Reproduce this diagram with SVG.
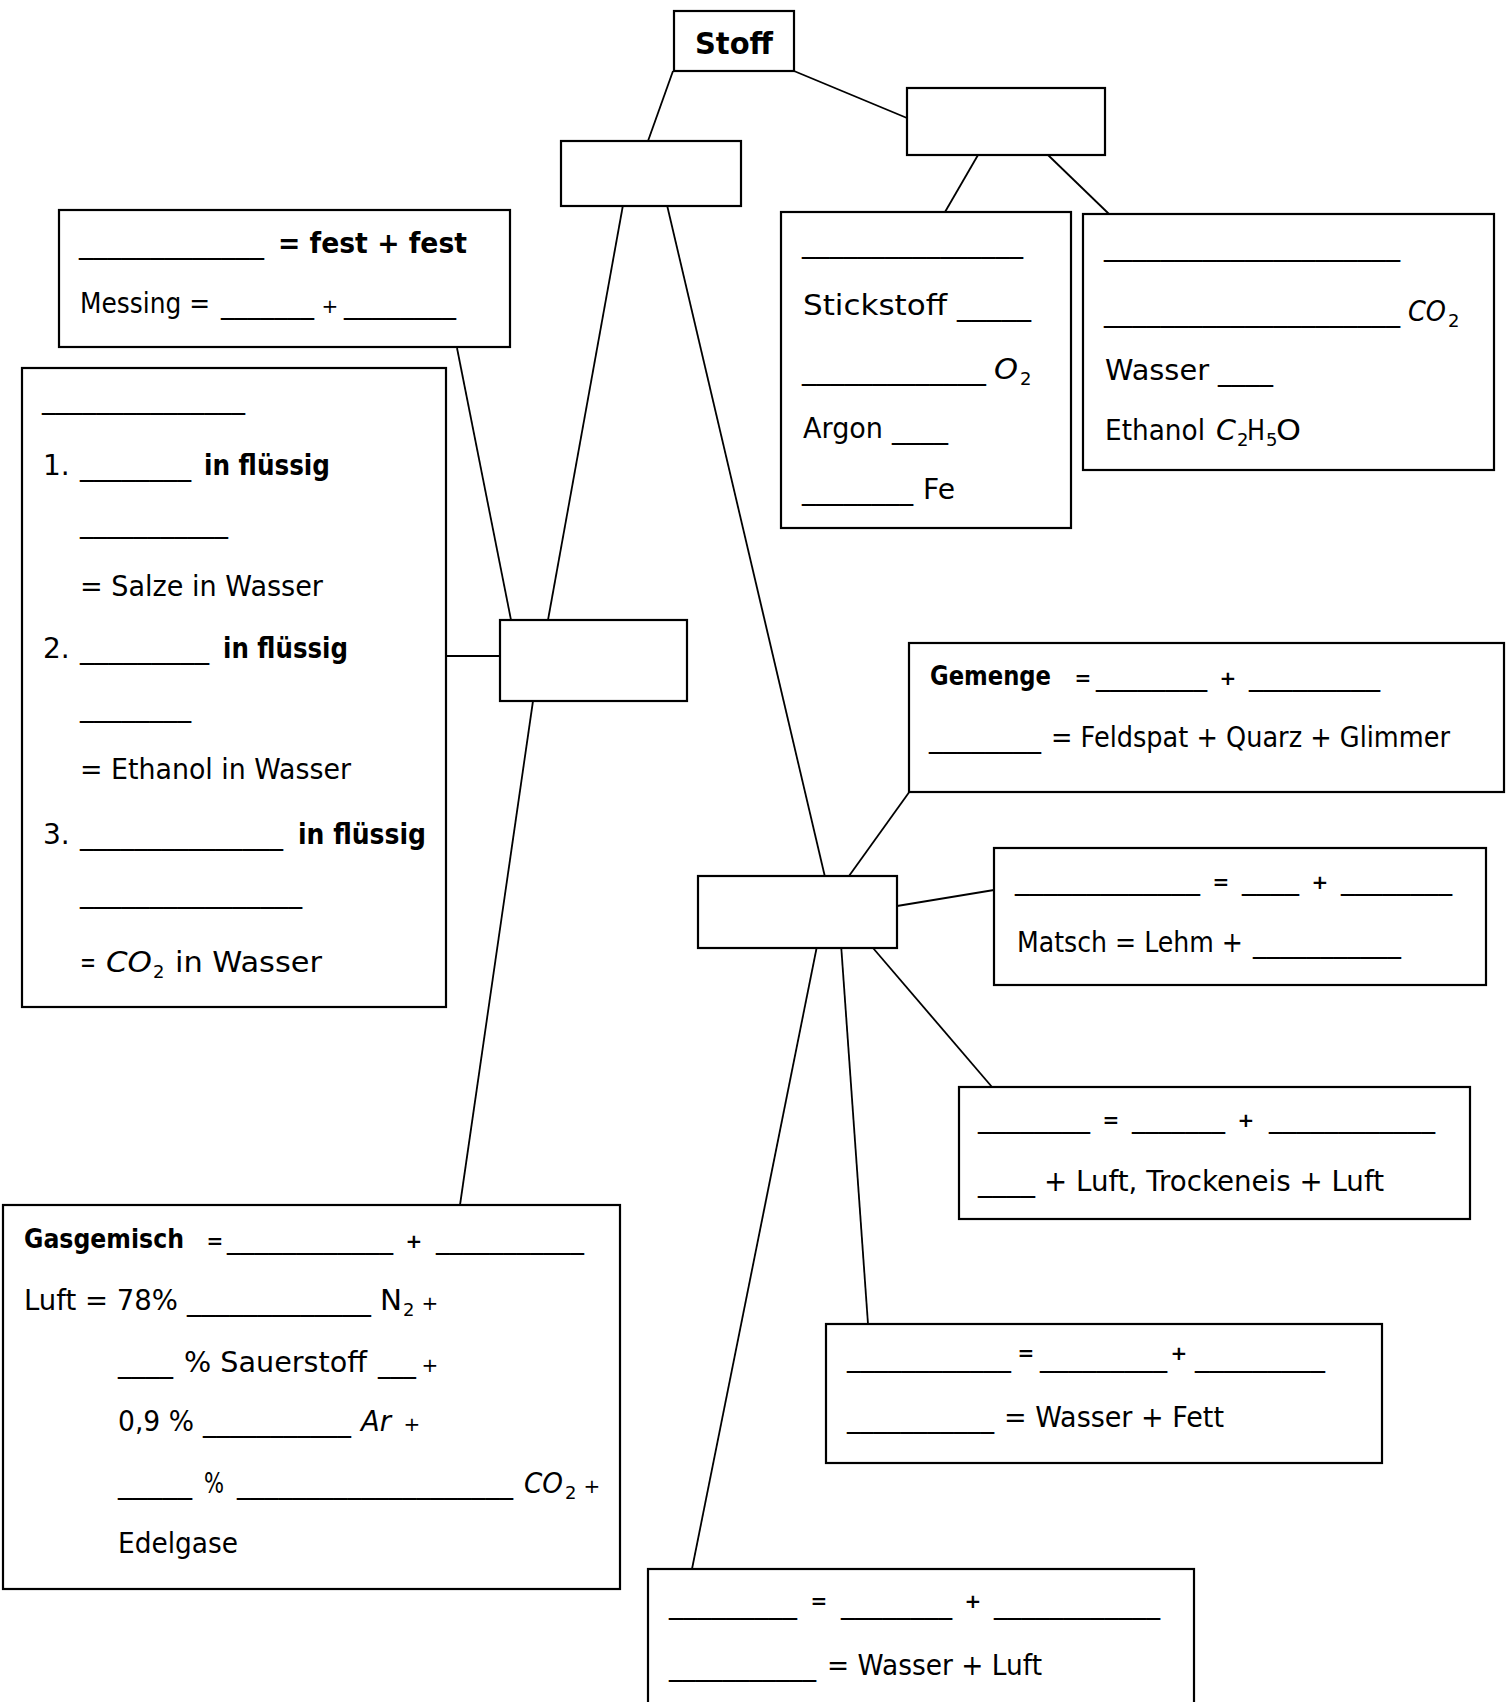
<svg xmlns="http://www.w3.org/2000/svg" width="1509" height="1702" viewBox="0 0 1509 1702">
<style>
.box{fill:#fff;stroke:#000;stroke-width:2.2}
.c{stroke:#000;stroke-width:1.8;fill:none}
text{font-family:"DejaVu Sans","Liberation Sans",sans-serif;font-size:28px;fill:#000}
.b{font-weight:bold}
.bh{font-weight:bold;font-size:27px}
.i{font-style:italic}
.s{font-size:18px}
.op{font-size:20px;text-anchor:middle}
.st{font-size:30px;font-weight:bold}
</style>
<rect width="1509" height="1702" fill="#fff"/>
<g id="connectors">
<line class="c" x1="673" y1="71" x2="648" y2="141"/>
<line class="c" x1="794" y1="71" x2="907" y2="118"/>
<line class="c" x1="978" y1="155" x2="945" y2="212"/>
<line class="c" x1="1048" y1="155" x2="1109" y2="214"/>
<line class="c" x1="623" y1="205" x2="548" y2="620"/>
<line class="c" x1="667" y1="205" x2="825" y2="877"/>
<line class="c" x1="457" y1="348" x2="511" y2="620"/>
<line class="c" x1="446" y1="656" x2="500" y2="656"/>
<line class="c" x1="533" y1="701" x2="460" y2="1205"/>
<line class="c" x1="849" y1="876" x2="910" y2="791"/>
<line class="c" x1="897" y1="906" x2="994" y2="890"/>
<line class="c" x1="873" y1="948" x2="992" y2="1087"/>
<line class="c" x1="841" y1="944" x2="868" y2="1324"/>
<line class="c" x1="817" y1="946" x2="692" y2="1569"/>
</g>
<g id="stoff">
<rect class="box" x="674" y="11" width="120" height="60"/>
<text class="st" x="695" y="54" textLength="78" lengthAdjust="spacingAndGlyphs">Stoff</text>
</g>
<g id="reinstoff">
<rect class="box" x="561" y="141" width="180" height="65"/>
</g>
<g id="gemisch">
<rect class="box" x="907" y="88" width="198" height="67"/>
</g>
<g id="elemente">
<rect class="box" x="781" y="212" width="290" height="316"/>
<text x="802" y="252" textLength="221" lengthAdjust="spacingAndGlyphs">________________</text>
<text x="803" y="315" textLength="144" lengthAdjust="spacingAndGlyphs">Stickstoff</text>
<text x="957" y="315" textLength="74" lengthAdjust="spacingAndGlyphs">_____</text>
<text x="802" y="379" textLength="184" lengthAdjust="spacingAndGlyphs">_____________</text>
<text class="i" x="994" y="379" textLength="24" lengthAdjust="spacingAndGlyphs">O</text>
<text class="s" x="1020" y="385">2</text>
<text x="803" y="438" textLength="80" lengthAdjust="spacingAndGlyphs">Argon</text>
<text x="892" y="438" textLength="56" lengthAdjust="spacingAndGlyphs">____</text>
<text x="802" y="499" textLength="111" lengthAdjust="spacingAndGlyphs">________</text>
<text x="923" y="499" textLength="32" lengthAdjust="spacingAndGlyphs">Fe</text>
</g>
<g id="verbindungen">
<rect class="box" x="1083" y="214" width="411" height="256"/>
<text x="1104" y="255" textLength="296" lengthAdjust="spacingAndGlyphs">_____________________</text>
<text x="1104" y="321" textLength="296" lengthAdjust="spacingAndGlyphs">_____________________</text>
<text class="i" x="1408" y="321" textLength="38" lengthAdjust="spacingAndGlyphs">CO</text>
<text class="s" x="1448" y="327">2</text>
<text x="1105" y="380" textLength="104" lengthAdjust="spacingAndGlyphs">Wasser</text>
<text x="1218" y="380" textLength="55" lengthAdjust="spacingAndGlyphs">____</text>
<text x="1105" y="440" textLength="100" lengthAdjust="spacingAndGlyphs">Ethanol</text>
<text class="i" x="1216" y="440" textLength="20" lengthAdjust="spacingAndGlyphs">C</text>
<text class="s" x="1237" y="446">2</text>
<text x="1247" y="440" textLength="18" lengthAdjust="spacingAndGlyphs">H</text>
<text class="s" x="1266" y="446">5</text>
<text x="1276" y="440" textLength="25" lengthAdjust="spacingAndGlyphs">O</text>
</g>
<g id="legierung">
<rect class="box" x="59" y="210" width="451" height="137"/>
<text x="79" y="253" textLength="185" lengthAdjust="spacingAndGlyphs">_____________</text>
<text class="b" x="278" y="253" textLength="189" lengthAdjust="spacingAndGlyphs">= fest + fest</text>
<text x="80" y="313" textLength="130" lengthAdjust="spacingAndGlyphs">Messing =</text>
<text x="221" y="313" textLength="93" lengthAdjust="spacingAndGlyphs">_______</text>
<text class="op" x="330" y="313">+</text>
<text x="344" y="313" textLength="112" lengthAdjust="spacingAndGlyphs">________</text>
</g>
<g id="loesung">
<rect class="box" x="22" y="368" width="424" height="639"/>
<text x="42" y="408" textLength="203" lengthAdjust="spacingAndGlyphs">_______________</text>
<text x="43" y="475">1.</text>
<text x="80" y="475" textLength="111" lengthAdjust="spacingAndGlyphs">________</text>
<text class="b" x="204" y="475" textLength="126" lengthAdjust="spacingAndGlyphs">in flüssig</text>
<text x="80" y="532" textLength="148" lengthAdjust="spacingAndGlyphs">___________</text>
<text x="80" y="596" textLength="243" lengthAdjust="spacingAndGlyphs">= Salze in Wasser</text>
<text x="43" y="658">2.</text>
<text x="80" y="658" textLength="129" lengthAdjust="spacingAndGlyphs">_________</text>
<text class="b" x="223" y="658" textLength="125" lengthAdjust="spacingAndGlyphs">in flüssig</text>
<text x="80" y="716" textLength="111" lengthAdjust="spacingAndGlyphs">________</text>
<text x="80" y="779" textLength="271" lengthAdjust="spacingAndGlyphs">= Ethanol in Wasser</text>
<text x="43" y="844">3.</text>
<text x="80" y="844" textLength="203" lengthAdjust="spacingAndGlyphs">_______________</text>
<text class="b" x="298" y="844" textLength="128" lengthAdjust="spacingAndGlyphs">in flüssig</text>
<text x="80" y="902" textLength="222" lengthAdjust="spacingAndGlyphs">________________</text>
<text x="80" y="972" textLength="16" lengthAdjust="spacingAndGlyphs">=</text>
<text class="i" x="106" y="972" textLength="46" lengthAdjust="spacingAndGlyphs">CO</text>
<text class="s" x="153" y="978">2</text>
<text x="175" y="972" textLength="147" lengthAdjust="spacingAndGlyphs">in Wasser</text>
</g>
<g id="loesung-mitte">
<rect class="box" x="500" y="620" width="187" height="81"/>
</g>
<g id="heterogen">
<rect class="box" x="698" y="876" width="199" height="72"/>
</g>
<g id="gemenge">
<rect class="box" x="909" y="643" width="595" height="149"/>
<text class="bh" x="930" y="685" textLength="121" lengthAdjust="spacingAndGlyphs">Gemenge</text>
<text class="op b" x="1083" y="685">=</text>
<text x="1096" y="685" textLength="111" lengthAdjust="spacingAndGlyphs">________</text>
<text class="op b" x="1228" y="685">+</text>
<text x="1249" y="685" textLength="131" lengthAdjust="spacingAndGlyphs">_________</text>
<text x="929" y="747" textLength="112" lengthAdjust="spacingAndGlyphs">________</text>
<text x="1051" y="747" textLength="399" lengthAdjust="spacingAndGlyphs">= Feldspat + Quarz + Glimmer</text>
</g>
<g id="suspension">
<rect class="box" x="994" y="848" width="492" height="137"/>
<text x="1015" y="889" textLength="185" lengthAdjust="spacingAndGlyphs">_____________</text>
<text class="op b" x="1221" y="889">=</text>
<text x="1242" y="889" textLength="57" lengthAdjust="spacingAndGlyphs">____</text>
<text class="op b" x="1320" y="889">+</text>
<text x="1341" y="889" textLength="111" lengthAdjust="spacingAndGlyphs">________</text>
<text x="1017" y="952" textLength="226" lengthAdjust="spacingAndGlyphs">Matsch = Lehm +</text>
<text x="1253" y="952" textLength="148" lengthAdjust="spacingAndGlyphs">___________</text>
</g>
<g id="aerosol">
<rect class="box" x="959" y="1087" width="511" height="132"/>
<text x="978" y="1127" textLength="112" lengthAdjust="spacingAndGlyphs">________</text>
<text class="op b" x="1111" y="1127">=</text>
<text x="1132" y="1127" textLength="93" lengthAdjust="spacingAndGlyphs">_______</text>
<text class="op b" x="1246" y="1127">+</text>
<text x="1269" y="1127" textLength="166" lengthAdjust="spacingAndGlyphs">____________</text>
<text x="978" y="1191" textLength="57" lengthAdjust="spacingAndGlyphs">____</text>
<text x="1044" y="1191" textLength="340" lengthAdjust="spacingAndGlyphs">+ Luft, Trockeneis + Luft</text>
</g>
<g id="emulsion">
<rect class="box" x="826" y="1324" width="556" height="139"/>
<text x="847" y="1366" textLength="164" lengthAdjust="spacingAndGlyphs">____________</text>
<text class="op b" x="1026" y="1360">=</text>
<text x="1040" y="1366" textLength="127" lengthAdjust="spacingAndGlyphs">_________</text>
<text class="op b" x="1179" y="1360">+</text>
<text x="1195" y="1366" textLength="130" lengthAdjust="spacingAndGlyphs">_________</text>
<text x="847" y="1427" textLength="147" lengthAdjust="spacingAndGlyphs">___________</text>
<text x="1004" y="1427" textLength="220" lengthAdjust="spacingAndGlyphs">= Wasser + Fett</text>
</g>
<g id="gasgemisch">
<rect class="box" x="3" y="1205" width="617" height="384"/>
<text class="bh" x="24" y="1248" textLength="160" lengthAdjust="spacingAndGlyphs">Gasgemisch</text>
<text class="op b" x="215" y="1248">=</text>
<text x="227" y="1248" textLength="166" lengthAdjust="spacingAndGlyphs">____________</text>
<text class="op b" x="414" y="1248">+</text>
<text x="436" y="1248" textLength="148" lengthAdjust="spacingAndGlyphs">___________</text>
<text x="24" y="1310" textLength="154" lengthAdjust="spacingAndGlyphs">Luft = 78%</text>
<text x="187" y="1310" textLength="184" lengthAdjust="spacingAndGlyphs">_____________</text>
<text x="380" y="1310" textLength="22" lengthAdjust="spacingAndGlyphs">N</text>
<text class="s" x="403" y="1316">2</text>
<text class="op" x="430" y="1310">+</text>
<text x="118" y="1372" textLength="55" lengthAdjust="spacingAndGlyphs">____</text>
<text x="184" y="1372" textLength="183" lengthAdjust="spacingAndGlyphs">% Sauerstoff</text>
<text x="378" y="1372" textLength="38" lengthAdjust="spacingAndGlyphs">___</text>
<text class="op" x="430" y="1372">+</text>
<text x="118" y="1431" textLength="76" lengthAdjust="spacingAndGlyphs">0,9 %</text>
<text x="203" y="1431" textLength="148" lengthAdjust="spacingAndGlyphs">___________</text>
<text class="i" x="361" y="1431" textLength="30" lengthAdjust="spacingAndGlyphs">Ar</text>
<text class="op" x="412" y="1431">+</text>
<text x="118" y="1493" textLength="74" lengthAdjust="spacingAndGlyphs">_____</text>
<text x="204" y="1493" textLength="20" lengthAdjust="spacingAndGlyphs">%</text>
<text x="237" y="1493" textLength="276" lengthAdjust="spacingAndGlyphs">____________________</text>
<text class="i" x="524" y="1493" textLength="39" lengthAdjust="spacingAndGlyphs">CO</text>
<text class="s" x="565" y="1499">2</text>
<text class="op" x="592" y="1493">+</text>
<text x="118" y="1553" textLength="120" lengthAdjust="spacingAndGlyphs">Edelgase</text>
</g>
<g id="schaum">
<rect class="box" x="648" y="1569" width="546" height="160"/>
<text x="669" y="1613" textLength="128" lengthAdjust="spacingAndGlyphs">_________</text>
<text class="op b" x="819" y="1608">=</text>
<text x="841" y="1613" textLength="111" lengthAdjust="spacingAndGlyphs">________</text>
<text class="op b" x="973" y="1608">+</text>
<text x="994" y="1613" textLength="166" lengthAdjust="spacingAndGlyphs">____________</text>
<text x="669" y="1675" textLength="147" lengthAdjust="spacingAndGlyphs">___________</text>
<text x="827" y="1675" textLength="215" lengthAdjust="spacingAndGlyphs">= Wasser + Luft</text>
</g>
</svg>
